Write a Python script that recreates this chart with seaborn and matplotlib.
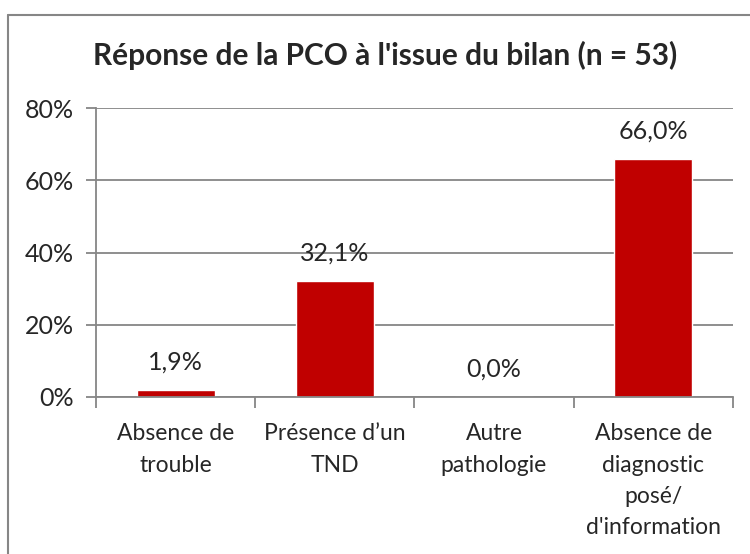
import pandas as pd
import matplotlib.pyplot as plt
import matplotlib.lines as mlines
import seaborn as sns

categories = ['Absence de\ntrouble', 'Présence d\u2019un\nTND', 'Autre\npathologie',
              'Absence de\ndiagnostic\nposé/\nd\'information']
values = [1.9, 32.1, 0.0, 66.0]
value_labels = ['1,9%', '32,1%', '0,0%', '66,0%']
y_ticks = [0, 20, 40, 60, 80]
y_tick_labels = ['0%', '20%', '40%', '60%', '80%']
title = "Réponse de la PCO à l'issue du bilan (n = 53)"

df = pd.DataFrame({'cat': categories, 'val': values})

sns.set_style('white')
plt.rcParams['font.family'] = ['Lato', 'DejaVu Sans']

fig = plt.figure(figsize=(7.5, 5.54), dpi=100)
ax = fig.add_axes([0.128, 0.2834, 0.849, 0.5216])

sns.barplot(data=df, x='cat', y='val', color='#C00000', saturation=1, width=0.49, ax=ax)

ax.set_ylim(0, 80)
ax.set_xlim(-0.5, 3.5)
ax.set_yticks(y_ticks)
ax.set_yticklabels(y_tick_labels, fontsize=18)
ax.set_xticks(range(len(categories)))
ax.set_xticklabels(categories, fontsize=16.5, linespacing=1.6, va='top')
ax.set_xlabel('')
ax.set_ylabel('')

ax.yaxis.grid(True, color='#868686', linewidth=1.3)
ax.set_axisbelow(True)
for s in ['top', 'right']:
    ax.spines[s].set_visible(False)
for s in ['left', 'bottom']:
    ax.spines[s].set_color('#868686')
    ax.spines[s].set_linewidth(1.3)

ax.tick_params(axis='y', length=7, width=1.3, color='#868686', pad=9, left=True)
ax.tick_params(axis='x', which='major', length=0, pad=19)
ax.set_xticks([-0.5, 0.5, 1.5, 2.5, 3.5], minor=True)
ax.tick_params(axis='x', which='minor', length=8, width=1.3, color='#868686', bottom=True)

for i, (v, lab) in enumerate(zip(values, value_labels)):
    ax.text(i, v + 4.5, lab, ha='center', va='bottom', fontsize=18)

fig.text(0.513, 0.9, title, ha='center', va='center', fontsize=21.5, fontweight='bold')

fig.add_artist(mlines.Line2D([0.0107, 1.0], [0.973, 0.973], color='#868686', linewidth=1.5))
fig.add_artist(mlines.Line2D([0.0107, 0.0107], [0.0, 0.973], color='#868686', linewidth=1.5))

plt.savefig('out.png', dpi=100)
